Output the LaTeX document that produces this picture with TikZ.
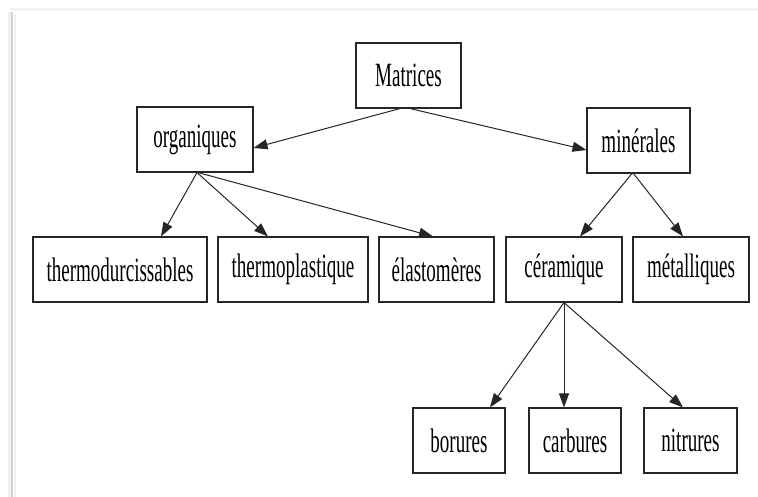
\documentclass[tikz,border=0pt]{standalone}
\usepackage{fontspec}
\setmainfont{Liberation Serif}[FakeStretch=0.56]
\usetikzlibrary{arrows.meta}
\begin{document}
\begin{tikzpicture}[x=1pt,y=-1pt,
  box/.style={draw=black!85,line width=1.1pt,fill=white,inner sep=0pt,minimum height=65pt,
    font=\fontsize{34}{36}\selectfont},
  edge/.style={draw=black!85,line width=1pt,-{Triangle[length=14pt,width=10pt]}}]
\useasboundingbox (0,0) rectangle (758,497);
\fill[white] (0,0) rectangle (758,497);
% frame shadow
\draw[gray!10,line width=3pt] (10,10) -- (758,10);
\draw[gray!12,line width=3pt] (9,12) -- (9,497);
\draw[gray!35,line width=2.5pt] (12,12) -- (12,497);
\draw[gray!12,line width=2pt] (15,14) -- (15,497);
% nodes
\node[box,minimum width=105pt] (mat) at (408.5,75.5) {Matrices};
\node[box,minimum width=116pt] (org) at (195,139.5) {organiques};
\node[box,minimum width=103pt] (min) at (638.5,140.5) {minérales};
\node[box,minimum width=174pt] (thd) at (120,269.5) {thermodurcissables};
\node[box,minimum width=150pt] (thp) at (293,269.5) {thermoplastique};
\node[box,minimum width=115pt] (ela) at (436.5,269.5) {élastomères};
\node[box,minimum width=116pt] (cer) at (564,269.5) {céramique};
\node[box,minimum width=116pt] (met) at (691,269.5) {métalliques};
\node[box,minimum width=92pt] (bor) at (459,440.5) {borures};
\node[box,minimum width=92pt] (car) at (575,440.5) {carbures};
\node[box,minimum width=93pt] (nit) at (690.5,440.5) {nitrures};
% edges
\draw[edge] ([xshift=-8.5pt]mat.south) -- ([yshift=-8.5pt]org.east);
\draw[edge] ([xshift=1.5pt]mat.south) -- ([yshift=-9.5pt]min.west);
\draw[edge] ([xshift=2pt]org.south) -- ([xshift=41pt]thd.north);
\draw[edge] ([xshift=2pt]org.south) -- ([xshift=-25pt]thp.north);
\draw[edge] ([xshift=3pt]org.south) -- ([xshift=-3.5pt]ela.north);
\draw[edge] ([xshift=-6.5pt]min.south) -- ([xshift=16pt]cer.north);
\draw[edge] ([xshift=-5pt]min.south) -- ([xshift=-8pt]met.north);
\draw[edge] (cer.south) -- ([xshift=31pt]bor.north);
\draw[edge] (cer.south) -- ([xshift=-11pt]car.north);
\draw[edge] (cer.south) -- ([xshift=-7.5pt]nit.north);
\end{tikzpicture}
\end{document}
